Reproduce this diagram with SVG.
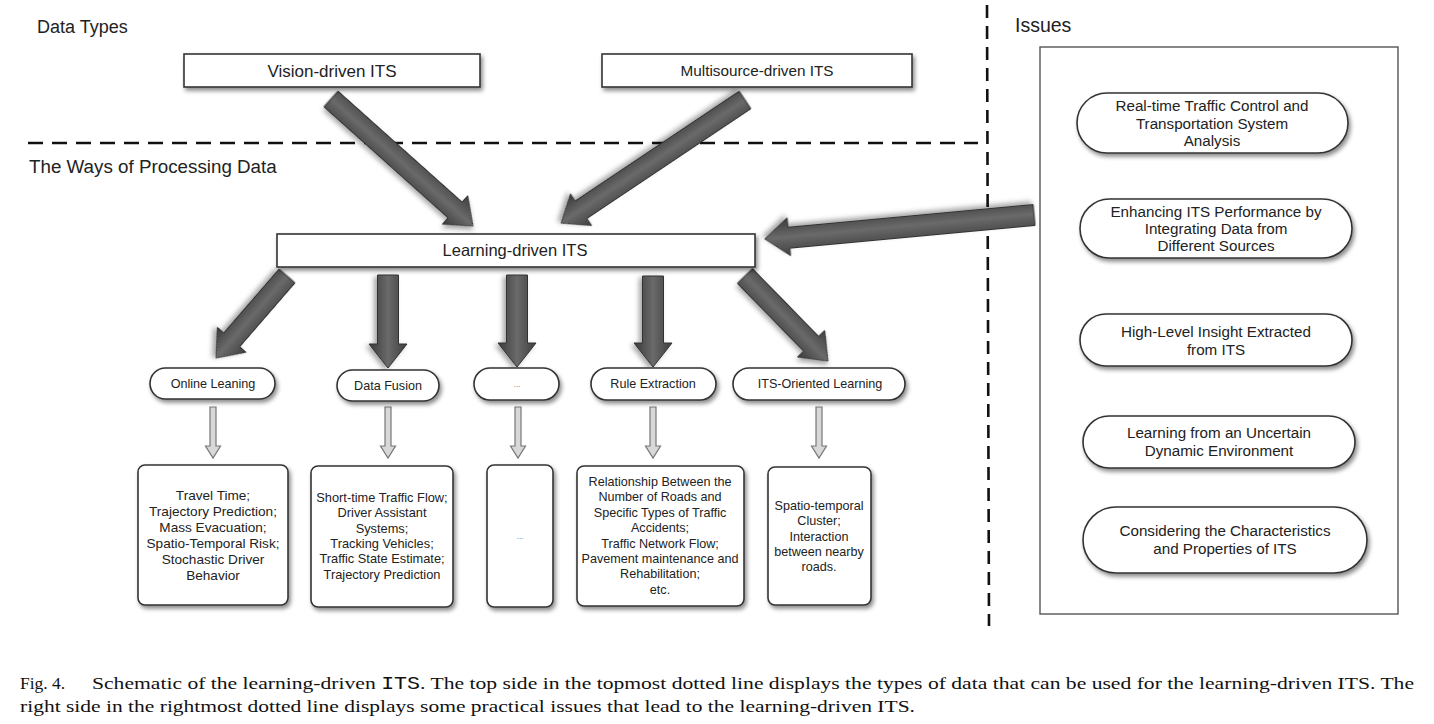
<svg xmlns="http://www.w3.org/2000/svg" width="1434" height="724" viewBox="0 0 1434 724">
<style>
text{font-family:"Liberation Sans",Arial,sans-serif;fill:#222;}
.h{font-size:18px;}
.tb{font-size:15.3px;text-anchor:middle;}
.sm{font-size:12.6px;text-anchor:middle;}
.is{font-size:15.2px;text-anchor:middle;}
.dots{font-size:8px;text-anchor:middle;fill:#666;}
.cap{font-family:"Liberation Serif","Times New Roman",serif;font-size:17.5px;fill:#111;}
.box{fill:#fff;stroke:#333;stroke-width:1.6;filter:url(#sh);}
.dash{stroke:#111;stroke-width:2.6;fill:none;}
.dark{fill:url(#dg);stroke:#333;stroke-width:1;filter:url(#sh2);}
.hol{fill:#d8d8d8;stroke:#777;stroke-width:1.2;}
</style>
<defs>
<filter id="sh" x="-10%" y="-20%" width="130%" height="160%">
<feDropShadow dx="2" dy="3" stdDeviation="2" flood-color="#000" flood-opacity="0.45"/>
</filter>
<filter id="sh2" x="-20%" y="-50%" width="140%" height="200%">
<feDropShadow dx="2" dy="3" stdDeviation="2.5" flood-color="#000" flood-opacity="0.35"/>
</filter>
<linearGradient id="dg" gradientUnits="userSpaceOnUse" x1="0" y1="-19" x2="0" y2="19">
<stop offset="0" stop-color="#3e3e3e"/>
<stop offset="0.5" stop-color="#6a6a6a"/>
<stop offset="1" stop-color="#3a3a3a"/>
</linearGradient>
</defs>
<rect width="1434" height="724" fill="#fff"/>

<g id="sections">
<text class="h" x="37" y="33">Data Types</text>
<text class="h" x="29" y="173" style="font-size:18.8px">The Ways of Processing Data</text>
<text class="h" x="1015" y="32" style="font-size:19.5px">Issues</text>
<line class="dash" x1="28" y1="143" x2="978" y2="143" stroke-dasharray="15,9"/>
<line class="dash" x1="987" y1="5" x2="989" y2="626" stroke-dasharray="13,8"/>
</g>

<g id="issues-frame">
<rect x="1040" y="47" width="358" height="567" fill="none" stroke="#555" stroke-width="1.4"/>
</g>

<g id="connectors">
<path class="dark" transform="translate(331,99) rotate(41.8)" d="M0,-10.5 H166.5 V-19 L190.5,0 L166.5,19 V10.5 H0 Z"/>
<path class="dark" transform="translate(745,100) rotate(146.2)" d="M0,-10.5 H197.3 V-19 L221.3,0 L197.3,19 V10.5 H0 Z"/>
<path class="dark" transform="translate(1034,214) rotate(174.7)" d="M0,-11.5 H246.2 V-19 L270.2,0 L246.2,19 V9.5 H0 Z"/>
<path class="dark" transform="translate(287,276) rotate(130.9)" d="M0,-10.5 H84.5 V-19 L108.5,0 L84.5,19 V10.5 H0 Z"/>
<path class="dark" transform="translate(388,275) rotate(90)" d="M0,-10.5 H69 V-19 L93,0 L69,19 V10.5 H0 Z"/>
<path class="dark" transform="translate(517,275) rotate(90)" d="M0,-10.5 H68 V-19 L92,0 L68,19 V10.5 H0 Z"/>
<path class="dark" transform="translate(653,276) rotate(90)" d="M0,-10.5 H67 V-19 L91,0 L67,19 V10.5 H0 Z"/>
<path class="dark" transform="translate(745,276) rotate(45.7)" d="M0,-10.5 H94.8 V-19 L118.8,0 L94.8,19 V10.5 H0 Z"/>
<path class="hol" d="M210,407 V446 H205.5 L213,458 L220.5,446 H216 V407 Z"/>
<path class="hol" d="M385,407 V446 H380.5 L388,458 L395.5,446 H391 V407 Z"/>
<path class="hol" d="M515,407 V446 H510.5 L518,458 L525.5,446 H521 V407 Z"/>
<path class="hol" d="M650,407 V446 H645.5 L653,458 L660.5,446 H656 V407 Z"/>
<path class="hol" d="M816,407 V446 H811.5 L819,458 L826.5,446 H822 V407 Z"/>
</g>

<g id="vision">
<rect class="box" x="184" y="54" width="296" height="33"/>
<text class="tb" x="332" y="77" style="font-size:17px">Vision-driven ITS</text>
</g>
<g id="multisource">
<rect class="box" x="602" y="54" width="310" height="33"/>
<text class="tb" x="757" y="76">Multisource-driven ITS</text>
</g>
<g id="learning">
<rect class="box" x="277" y="234" width="478" height="33"/>
<text class="tb" x="515" y="256" style="font-size:16.5px">Learning-driven ITS</text>
</g>

<g id="online">
<rect class="box" x="150" y="368" width="125" height="31" rx="15.5"/>
<text class="sm" x="213" y="388">Online Leaning</text>
</g>
<g id="fusion">
<rect class="box" x="337" y="370" width="102" height="31" rx="15.5"/>
<text class="sm" x="388" y="390">Data Fusion</text>
</g>
<g id="etc">
<rect class="box" x="474" y="368" width="85" height="32" rx="16"/>
<text class="dots" x="517" y="387">...</text>
</g>
<g id="rule">
<rect class="box" x="591" y="368" width="125" height="32" rx="16"/>
<text class="sm" x="653" y="388">Rule Extraction</text>
</g>
<g id="itsol">
<rect class="box" x="733" y="368" width="172" height="32" rx="16"/>
<text class="sm" x="820" y="388">ITS-Oriented Learning</text>
</g>

<g id="box1">
<rect class="box" x="138" y="465" width="150" height="140" rx="7"/>
<text class="sm" style="font-size:13.6px" x="213" y="500">Travel Time;<tspan x="213" dy="16">Trajectory Prediction;</tspan><tspan x="213" dy="16">Mass Evacuation;</tspan><tspan x="213" dy="16">Spatio-Temporal Risk;</tspan><tspan x="213" dy="16">Stochastic Driver</tspan><tspan x="213" dy="16">Behavior</tspan></text>
</g>
<g id="box2">
<rect class="box" x="311" y="466" width="142" height="141" rx="7"/>
<text class="sm" style="font-size:12.8px" x="382" y="502">Short-time Traffic Flow;<tspan x="382" dy="15.3">Driver Assistant</tspan><tspan x="382" dy="15.3">Systems;</tspan><tspan x="382" dy="15.3">Tracking Vehicles;</tspan><tspan x="382" dy="15.3">Traffic State Estimate;</tspan><tspan x="382" dy="15.3">Trajectory Prediction</tspan></text>
</g>
<g id="box3">
<rect class="box" x="487" y="465" width="66" height="142" rx="7"/>
<text class="dots" x="520" y="539">...</text>
</g>
<g id="box4">
<rect class="box" x="577" y="466" width="167" height="140" rx="7"/>
<text class="sm" style="font-size:12.6px" x="660" y="486">Relationship Between the<tspan x="660" dy="15.4">Number of Roads and</tspan><tspan x="660" dy="15.4">Specific Types of Traffic</tspan><tspan x="660" dy="15.4">Accidents;</tspan><tspan x="660" dy="15.4">Traffic Network Flow;</tspan><tspan x="660" dy="15.4">Pavement maintenance and</tspan><tspan x="660" dy="15.4">Rehabilitation;</tspan><tspan x="660" dy="15.4">etc.</tspan></text>
</g>
<g id="box5">
<rect class="box" x="768" y="467" width="103" height="138" rx="7"/>
<text class="sm" x="819" y="510">Spatio-temporal<tspan x="819" dy="15.3">Cluster;</tspan><tspan x="819" dy="15.3">Interaction</tspan><tspan x="819" dy="15.3">between nearby</tspan><tspan x="819" dy="15.3">roads.</tspan></text>
</g>

<g id="issue1">
<rect class="box" x="1077" y="93" width="271" height="60" rx="30"/>
<text class="is" x="1212" y="111">Real-time Traffic Control and<tspan x="1212" dy="17.5">Transportation System</tspan><tspan x="1212" dy="17.5">Analysis</tspan></text>
</g>
<g id="issue2">
<rect class="box" x="1080" y="199" width="272" height="59" rx="29.5"/>
<text class="is" x="1216" y="217">Enhancing ITS Performance by<tspan x="1216" dy="17">Integrating Data from</tspan><tspan x="1216" dy="17">Different Sources</tspan></text>
</g>
<g id="issue3">
<rect class="box" x="1080" y="314" width="272" height="52" rx="26"/>
<text class="is" x="1216" y="337">High-Level Insight Extracted<tspan x="1216" dy="17.5">from ITS</tspan></text>
</g>
<g id="issue4">
<rect class="box" x="1083" y="416" width="272" height="52" rx="26"/>
<text class="is" x="1219" y="438">Learning from an Uncertain<tspan x="1219" dy="17.5">Dynamic Environment</tspan></text>
</g>
<g id="issue5">
<rect class="box" x="1083" y="507" width="284" height="66" rx="33"/>
<text class="is" x="1225" y="536">Considering the Characteristics<tspan x="1225" dy="18">and Properties of ITS</tspan></text>
</g>

<g id="caption">
<text class="cap" x="20" y="689">Fig. 4.</text>
<text class="cap" x="92" y="689" textLength="1322" lengthAdjust="spacingAndGlyphs">Schematic of the learning-driven <tspan style="font-family:'Liberation Mono','Courier New',monospace">ITS</tspan>. The top side in the topmost dotted line displays the types of data that can be used for the learning-driven ITS. The</text>
<text class="cap" x="20" y="712" textLength="895" lengthAdjust="spacingAndGlyphs">right side in the rightmost dotted line displays some practical issues that lead to the learning-driven ITS.</text>
</g>
</svg>
